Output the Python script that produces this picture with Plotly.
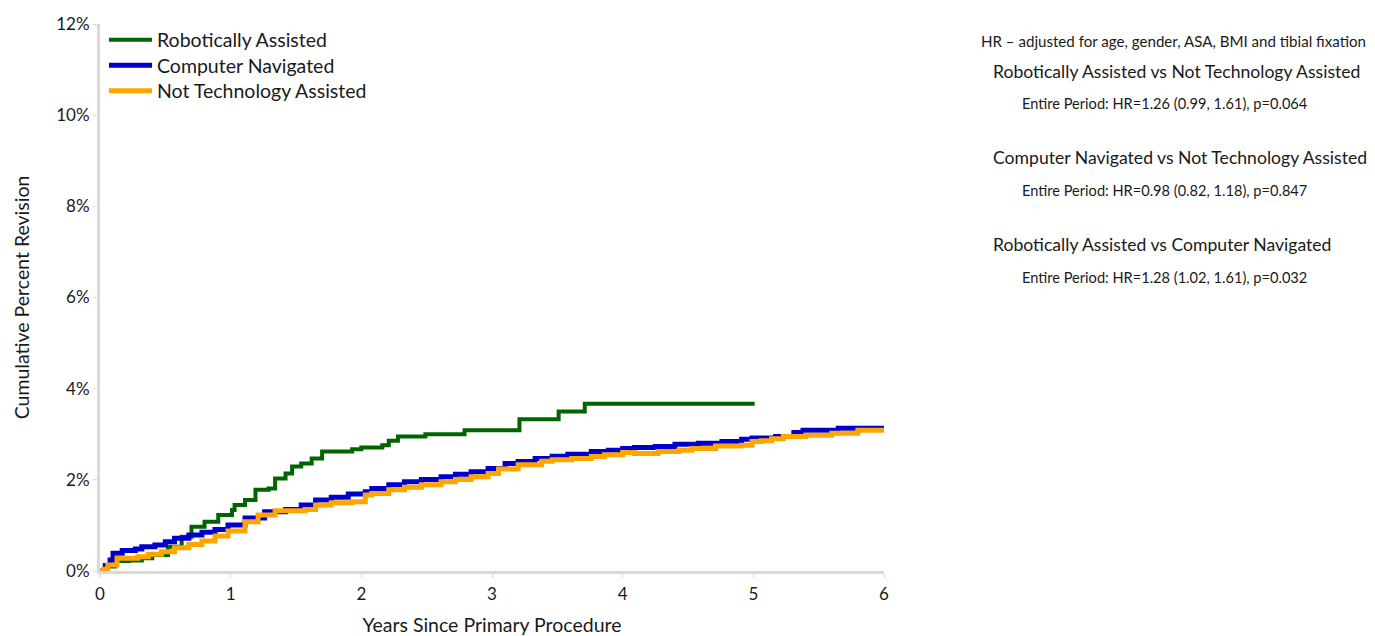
import plotly.graph_objects as go

# Robotically Assisted (years, cumulative percent revision)
ra_x = [0, 0.05, 0.115, 0.22, 0.32, 0.40, 0.52, 0.625, 0.70, 0.80, 0.905, 1.01, 1.03, 1.11, 1.19, 1.29, 1.34, 1.42, 1.47,
        1.54, 1.62, 1.70, 1.93, 2.00, 2.16, 2.21, 2.28, 2.49, 2.79, 3.21, 3.51, 3.71, 5.01]
ra_y = [0, 0.10, 0.22, 0.23, 0.28, 0.35, 0.53, 0.75, 0.97, 1.08, 1.23, 1.34, 1.45, 1.56, 1.78, 1.81, 2.03, 2.14, 2.29,
        2.36, 2.47, 2.62, 2.67, 2.71, 2.76, 2.86, 2.95, 3.00, 3.09, 3.33, 3.50, 3.67, 3.67]

# Computer Navigated
cn_x = [0, 0.04, 0.077, 0.10, 0.17, 0.27, 0.32, 0.42, 0.50, 0.57, 0.68, 0.78, 0.88, 0.98, 1.11, 1.26, 1.42, 1.54, 1.65,
        1.77, 1.90, 2.03, 2.08, 2.21, 2.33, 2.46, 2.61, 2.72, 2.84, 2.97, 3.10, 3.20, 3.33, 3.46, 3.58, 3.76, 3.89, 4.00,
        4.09, 4.25, 4.40, 4.58, 4.76, 4.91, 4.99, 5.17, 5.31, 5.38, 5.65, 5.99]
cn_y = [0, 0.12, 0.24, 0.39, 0.45, 0.48, 0.53, 0.57, 0.64, 0.72, 0.79, 0.85, 0.91, 1.01, 1.16, 1.30, 1.35, 1.45, 1.56,
        1.62, 1.69, 1.74, 1.81, 1.89, 1.96, 2.01, 2.07, 2.12, 2.18, 2.25, 2.36, 2.40, 2.47, 2.52, 2.56, 2.62, 2.65, 2.69,
        2.71, 2.73, 2.78, 2.80, 2.84, 2.89, 2.92, 2.95, 3.04, 3.09, 3.13, 3.11]

# Not Technology Assisted
nt_x = [0, 0.03, 0.06, 0.13, 0.29, 0.37, 0.47, 0.57, 0.68, 0.78, 0.88, 0.98, 1.11, 1.21, 1.34, 1.57, 1.65, 1.77, 1.93,
        2.03, 2.08, 2.21, 2.33, 2.46, 2.61, 2.72, 2.84, 2.97, 3.05, 3.20, 3.38, 3.46, 3.61, 3.76, 3.86, 4.00, 4.09, 4.27,
        4.43, 4.53, 4.71, 4.91, 4.99, 5.06, 5.14, 5.23, 5.40, 5.60, 5.80, 6.00]
nt_y = [0, 0.04, 0.13, 0.28, 0.31, 0.37, 0.42, 0.51, 0.58, 0.66, 0.77, 0.88, 1.08, 1.23, 1.32, 1.35, 1.45, 1.50, 1.52,
        1.67, 1.70, 1.78, 1.84, 1.89, 1.96, 2.01, 2.07, 2.14, 2.24, 2.33, 2.41, 2.44, 2.47, 2.51, 2.55, 2.60, 2.58, 2.62,
        2.65, 2.69, 2.74, 2.76, 2.84, 2.86, 2.90, 2.95, 2.98, 3.02, 3.09, 3.09]

series_names = ["Robotically Assisted", "Computer Navigated", "Not Technology Assisted"]
series_x = [ra_x, cn_x, nt_x]
series_y = [ra_y, cn_y, nt_y]
colors = ["#006400", "#0000cd", "#ffa500"]
widths = [4, 5, 5]

x_ticks = [0, 1, 2, 3, 4, 5, 6]
y_ticks = [0, 2, 4, 6, 8, 10, 12]
y_tick_labels = ["0%", "2%", "4%", "6%", "8%", "10%", "12%"]

hr_note = "HR – adjusted for age, gender, ASA, BMI and tibial fixation"
comparisons = ["Robotically Assisted vs Not Technology Assisted",
               "Computer Navigated vs Not Technology Assisted",
               "Robotically Assisted vs Computer Navigated"]
hr_results = ["Entire Period: HR=1.26 (0.99, 1.61), p=0.064",
              "Entire Period: HR=0.98 (0.82, 1.18), p=0.847",
              "Entire Period: HR=1.28 (1.02, 1.61), p=0.032"]

font_family = "Lato, 'Noto Sans', sans-serif"
TXT = "#1a1a1a"

# page has an 8px body margin; figure occupies page pixels 8..1375, 8..636
OFF = 8
W, H = 1375 - OFF, 636 - OFF
PL, PR, PT, PB = 100, 884, 24, 571  # plot area in page pixels
L, R, T, B = PL - OFF, W - (PR - OFF), PT - OFF, H - (PB - OFF)

def to_paper(px, py):
    return (px - PL) / (PR - PL), 1 - (py - PT) / (PB - PT)

fig = go.Figure()
legend_keys = ["legend", "legend2", "legend3"]
for i in range(3):
    fig.add_trace(go.Scatter(x=series_x[i], y=series_y[i], mode="lines", name=series_names[i],
                             legend=legend_keys[i],
                             line=dict(color=colors[i], width=widths[i], shape="hv")))

# text annotations on the right
ann_specs = [(hr_note, 979, 41, 15.1)]
for k in range(3):
    ann_specs.append((comparisons[k], 991, [72, 158, 245][k], 17.6))
    ann_specs.append((hr_results[k], 1020, [104, 190, 277][k], 14.6))
annots = []
for txt, px, py, fs in ann_specs:
    ax, ay = to_paper(px, py)
    annots.append(dict(text=txt, x=ax, y=ay, xref="paper", yref="paper",
                       xanchor="left", yanchor="middle", showarrow=False,
                       font=dict(size=fs, color=TXT, family=font_family)))

legend_centers = [40, 65.5, 91]
legend_layout = {}
for k, key in enumerate(legend_keys):
    lx, ly = to_paper(104, legend_centers[k])
    legend_layout[key] = dict(x=lx, y=ly, xanchor="left", yanchor="middle",
                              font=dict(size=19.5, family=font_family, color=TXT),
                              bgcolor="rgba(0,0,0,0)", itemwidth=43, borderwidth=0)

fig.update_layout(
    width=W, height=H,
    margin=dict(l=L, r=R, t=T, b=B, autoexpand=False),
    paper_bgcolor="white", plot_bgcolor="white",
    font=dict(family=font_family, color=TXT),
    showlegend=True,
    annotations=annots,
    **legend_layout,
)
fig.update_xaxes(range=[0, 6], tickvals=x_ticks, showgrid=False, zeroline=False,
                 showline=True, linecolor="#d9d9d9", linewidth=3, automargin=False,
                 ticks="outside", ticklen=4, tickcolor="#d9d9d9", ticklabelstandoff=2,
                 tickfont=dict(size=17), title=dict(text="Years Since Primary Procedure",
                                                    font=dict(size=19.5), standoff=20))
fig.update_yaxes(range=[0, 12], tickvals=y_ticks, ticktext=y_tick_labels, showgrid=False,
                 zeroline=False, showline=True, linecolor="#d9d9d9", linewidth=3, automargin=False,
                 ticks="outside", ticklen=4, tickcolor="#d9d9d9",
                 tickfont=dict(size=17), title=dict(text="Cumulative Percent Revision",
                                                    font=dict(size=19.5), standoff=22))

fig.write_html("out.html")
